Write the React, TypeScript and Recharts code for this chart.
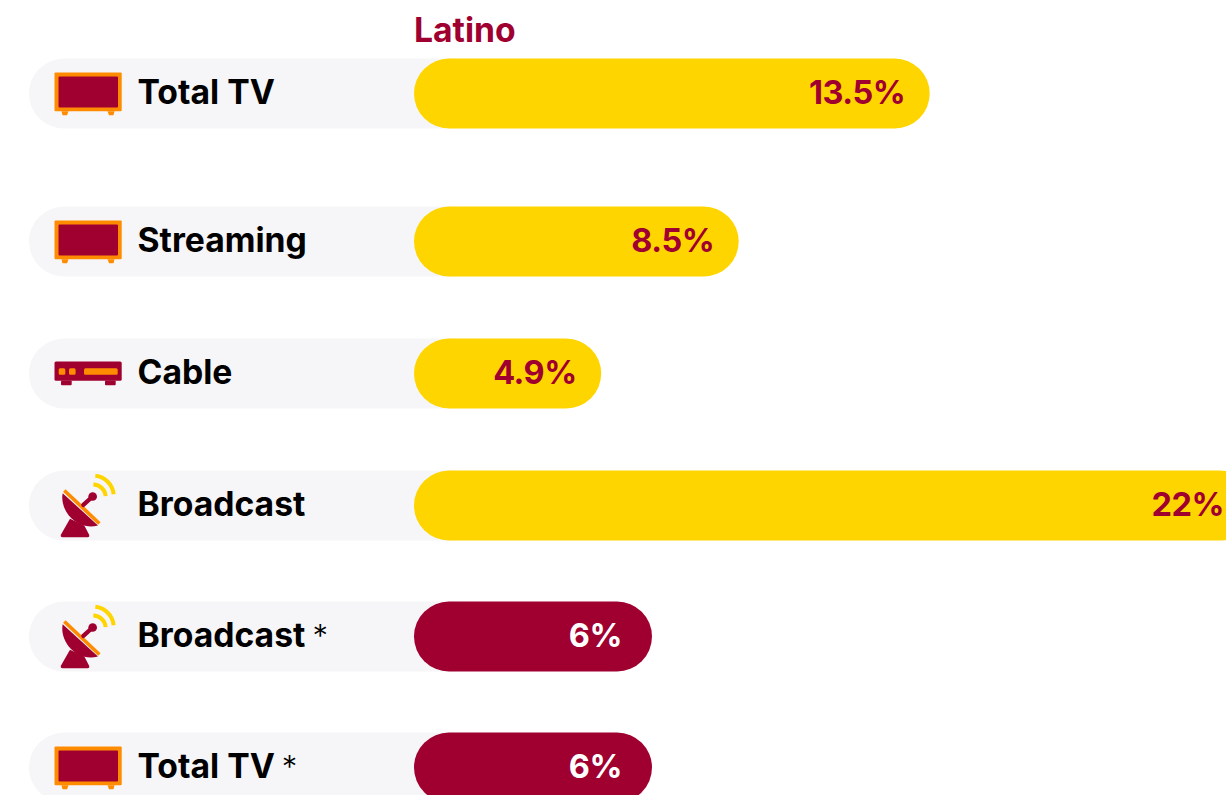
import React from "react";
import { BarChart, Bar, XAxis, YAxis, Cell, LabelList } from "recharts";

const categories = ["Total TV", "Streaming", "Cable", "Broadcast", "Broadcast", "Total TV"];
const notes = ["", "", "", "", "*", "*"];
const icons = ["tv", "tv", "cable", "dish", "dish", "tv"];
const valueLabels = ["13.5%", "8.5%", "4.9%", "22%", "6%", "6%"];
const barLengths = [13.5, 8.5, 4.9, 22, 6.23, 6.23];
const groups = ["gold", "gold", "gold", "gold", "maroon", "maroon"];
const rowCentres = [93, 241, 373, 505, 636, 767];
const seriesName = "Latino";

const MAROON = "#A00030";
const ORANGE = "#FF8C00";
const GOLD = "#FFD500";
const TRACK = "#F6F6F8";
const FONT = "Inter, sans-serif";
const W = 1226;
const H = 795;
const ZERO_X = 414;
const PX_PER_UNIT = 38.2;
const ROW_H = 70;

const data = categories.map((name, i) => ({
  name,
  note: notes[i],
  icon: icons[i],
  label: valueLabels[i],
  group: groups[i],
  pos: rowCentres[i],
  value: [0, barLengths[i]],
  track: [-10.08, 2],
}));

function Icon({ kind, cy }: { kind: string; cy: number }) {
  if (kind === "tv") {
    return (
      <g>
        <rect x={54.5} y={cy - 21} width={67.2} height={38.8} rx={1} fill={ORANGE} />
        <rect x={58.5} y={cy - 17} width={59.5} height={31} rx={1} fill={MAROON} />
        <path d={`M61.5 ${cy + 17.8}h7l-1.5 4h-4.5z`} fill={ORANGE} />
        <path d={`M107.5 ${cy + 17.8}h7l-1 4h-4.5z`} fill={ORANGE} />
      </g>
    );
  }
  if (kind === "cable") {
    return (
      <g>
        <rect x={54.5} y={cy - 12} width={67.2} height={19.2} rx={1.5} fill={MAROON} />
        <rect x={61} y={cy + 7} width={10.7} height={4.7} rx={1} fill={MAROON} />
        <rect x={105} y={cy + 7} width={10.7} height={4.7} rx={1} fill={MAROON} />
        <rect x={58.7} y={cy - 5.3} width={6.6} height={6.6} rx={1.5} fill={ORANGE} />
        <rect x={69} y={cy - 5.3} width={6.6} height={6.6} rx={1.5} fill={ORANGE} />
        <rect x={84} y={cy - 5.3} width={33.7} height={6.6} rx={1.5} fill={ORANGE} />
      </g>
    );
  }
  return (
    <g transform={`translate(20 ${cy - 175}) scale(${1 / 3})`}>
      <path d="M150,565 L123,612 Q120,620 128,620 L203,620 Q210,620 207,612 L193,585 Z" fill={MAROON} />
      <path d="M128,488 C118,540 170,602 234,585 Z" fill={MAROON} />
      <path d="M133,480 L238,579" stroke={ORANGE} strokeWidth={11} fill="none" />
      <path d="M190,523 L218,498" stroke={MAROON} strokeWidth={13} strokeLinecap="round" fill="none" />
      <circle cx={218} cy={498} r={13} fill={MAROON} />
      <path d="M226,436 A 62,62 0 0 1 281,491" stroke={GOLD} strokeWidth={12} fill="none" />
      <path d="M220,462 A 38,38 0 0 1 257,497" stroke={GOLD} strokeWidth={12} fill="none" />
    </g>
  );
}

function RowHead(props: any) {
  const { y, height, index } = props;
  const d = data[index];
  const cy = y + height / 2;
  return (
    <g>
      {index === 0 ? (
        <text x={ZERO_X} y={42} fontFamily={FONT} fontSize={33.7} fontWeight={700} fill={MAROON}>
          {seriesName}
        </text>
      ) : null}
      <Icon kind={d.icon} cy={cy} />
      <text x={137.5} y={cy + 10.5} fontFamily={FONT} fontSize={33.7} fontWeight={650} fill="#000">
        {d.name}
        {d.note ? (
          <tspan dx={7} fontWeight={300} fontSize={31}>
            {d.note}
          </tspan>
        ) : null}
      </text>
    </g>
  );
}

function ValueText(props: any) {
  const { x, y, width, height, index } = props;
  const d = data[index];
  const pad = d.group === "maroon" ? 30 : 24.5;
  const right = Math.min(x + width - pad, W - 2);
  return (
    <text
      x={right}
      y={y + height / 2 + 10.5}
      textAnchor="end"
      fontFamily={FONT}
      fontSize={32.5}
      fontWeight={700}
      letterSpacing={-0.5}
      fill={d.group === "maroon" ? "#FFFFFF" : MAROON}
    >
      {d.label}
    </text>
  );
}

export default function App() {
  const xMin = -ZERO_X / PX_PER_UNIT;
  const xMax = (W - ZERO_X) / PX_PER_UNIT;
  return (
    <div style={{ position: "absolute", left: 0, top: 0, width: W, height: H, overflow: "hidden", background: "#fff" }}>
      <BarChart
        width={W}
        height={H}
        layout="vertical"
        data={data}
        margin={{ top: 0, right: 0, bottom: 0, left: 0 }}
        barSize={ROW_H}
        barGap={-ROW_H}
      >
        <XAxis type="number" hide domain={[xMin, xMax]} allowDataOverflow />
        <YAxis type="number" dataKey="pos" hide domain={[0, H]} allowDataOverflow width={0} />
        <Bar dataKey="track" fill={TRACK} radius={ROW_H / 2} isAnimationActive={false}>
          <LabelList dataKey="name" content={RowHead} />
        </Bar>
        <Bar dataKey="value" radius={ROW_H / 2} isAnimationActive={false}>
          {data.map((d, i) => (
            <Cell key={i} fill={d.group === "maroon" ? MAROON : GOLD} />
          ))}
          <LabelList dataKey="label" content={ValueText} />
        </Bar>
      </BarChart>
    </div>
  );
}
